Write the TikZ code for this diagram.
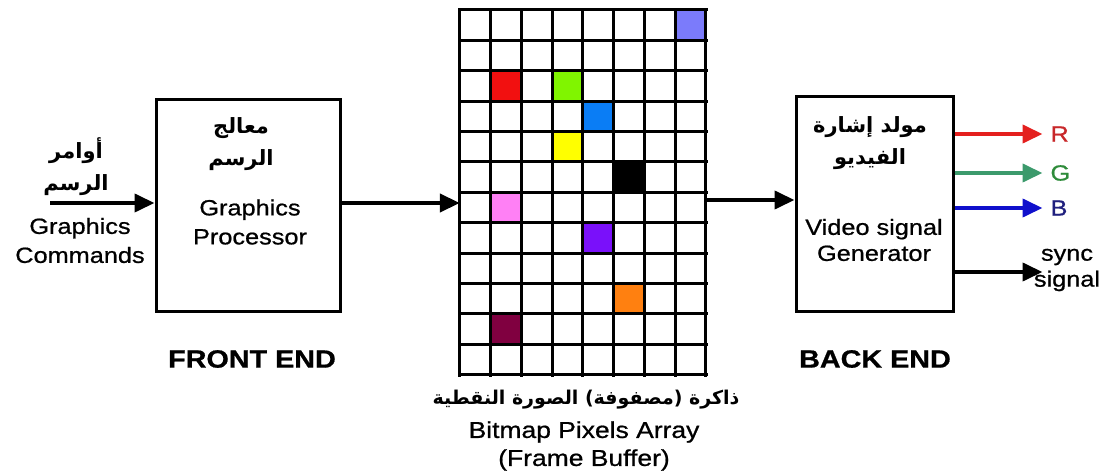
\documentclass[tikz,border=0pt]{standalone}
\usepackage{fontspec}
\setmainfont[FakeStretch=1.15,FakeBold=0.8]{Liberation Sans}
\newfontfamily\arabicfont[Script=Arabic]{DejaVu Sans}
\TeXXeTstate=1
\usetikzlibrary{arrows.meta}
\definecolor{pxperi}{HTML}{7B7BFB}
\definecolor{pxred}{HTML}{F21010}
\definecolor{pxlime}{HTML}{80F500}
\definecolor{pxazure}{HTML}{0A7DF5}
\definecolor{pxyellow}{HTML}{FFFF00}
\definecolor{pxpink}{HTML}{FF80F5}
\definecolor{pxviolet}{HTML}{7A10FA}
\definecolor{pxorange}{HTML}{FF8010}
\definecolor{pxmaroon}{HTML}{800040}
\definecolor{rline}{HTML}{E4201E}
\definecolor{gline}{HTML}{3C9A6C}
\definecolor{bline}{HTML}{1010CC}
\definecolor{rtext}{HTML}{C8282A}
\definecolor{gtext}{HTML}{2E8B3A}
\definecolor{btext}{HTML}{20207E}

\begin{document}
\begin{tikzpicture}[x=1pt,y=-1pt,
    blockbox/.style={draw,line width=3pt,minimum width=184pt,minimum height=211pt,inner sep=0pt},
    flow/.style={line width=4pt,-{Triangle[length=20pt,width=18pt]}},
    lbl/.style={font=\fontsize{22}{29}\selectfont,align=center,inner sep=0pt},
    arlbl/.style={font=\arabicfont\bfseries\fontsize{21}{32}\selectfont,align=center,inner sep=0pt},
    endlbl/.style={font=\fontsize{25}{30}\selectfont\bfseries,inner sep=0pt},
    gridline/.style={line width=3pt,line cap=rect}]
    \useasboundingbox (0,0) rectangle (1106,473);
    \node[blockbox] (gp) at (248,205.5) {};
    \node[blockbox,minimum width=157pt,minimum height=214pt] (vg) at (874.5,204) {};
    \node[inner sep=0pt,minimum width=246pt,minimum height=365pt] (fb) at (583,192.5) {};
    \foreach \c/\r/\clr in {7/0/pxperi,1/2/pxred,3/2/pxlime,4/3/pxazure,3/4/pxyellow,
        5/5/black,1/6/pxpink,4/7/pxviolet,5/9/pxorange,1/10/pxmaroon}
        \fill[\clr] ([shift={(\c*30.75,\r*30.417)}]fb.north west) rectangle ++(30.75,30.417);
    \foreach \c in {0,...,8}
        \draw[gridline] ([shift={(\c*30.75,0)}]fb.north west) -- ([shift={(\c*30.75,0)}]fb.south west);
    \foreach \r in {0,...,12}
        \draw[gridline] ([shift={(0,\r*30.417)}]fb.north west) -- ([shift={(0,\r*30.417)}]fb.north east);
    \node[arlbl] (cmdar) at (76,167) {\beginR أوامر\endR\\\beginR الرسم\endR};
    \node[lbl] (cmden) at (80,240.5) {Graphics\\Commands};
    \node[arlbl] (gpar) at (241,144) {\beginR معالج\endR\\\beginR الرسم\endR};
    \node[lbl] (gpen) at (250,222) {Graphics\\Processor};
    \node[endlbl] (front) at (252,359) {FRONT END};
    \node[arlbl] (vgar) at (870,143.5) {\beginR مولد إشارة\endR\\\beginR الفيديو\endR};
    \node[lbl,font=\fontsize{22}{26}\selectfont] (vgen) at (874,240) {Video signal\\Generator};
    \node[endlbl] (back) at (875,359) {BACK END};
    \node[arlbl,font=\arabicfont\bfseries\fontsize{19}{32}\selectfont] (fbar) at (586,400)
        {\beginR ذاكرة (مصفوفة) الصورة النقطية\endR};
    \node[lbl,font=\fontsize{23}{28}\selectfont] (fben) at (584,446) {Bitmap Pixels Array\\(Frame Buffer)};
    \coordinate (cmdin) at (50,203);
    \coordinate (fbout) at (fb.east |- 0,200);
    \draw[flow] (cmdin) -- (cmdin -| gp.west);
    \draw[flow] (cmdin -| gp.east) -- (cmdin -| fb.west);
    \draw[flow] (fbout) -- (fbout -| vg.west);
    \foreach \yy/\lc/\tc/\txt in {134/rline/rtext/R,173/gline/gtext/G,208/bline/btext/B}
        \draw[flow,\lc] (vg.east |- 0,\yy) -- ++(88,0)
            node[right=6pt,inner sep=0pt,text=\tc,font=\fontsize{22}{26}\selectfont] {\txt};
    \draw[flow] (vg.east |- 0,272) -- ++(88,0) coordinate (syncend);
    \node[lbl,font=\fontsize{22}{26}\selectfont] (sync) at (1067,270) {sync\\signal};
\end{tikzpicture}
\end{document}
